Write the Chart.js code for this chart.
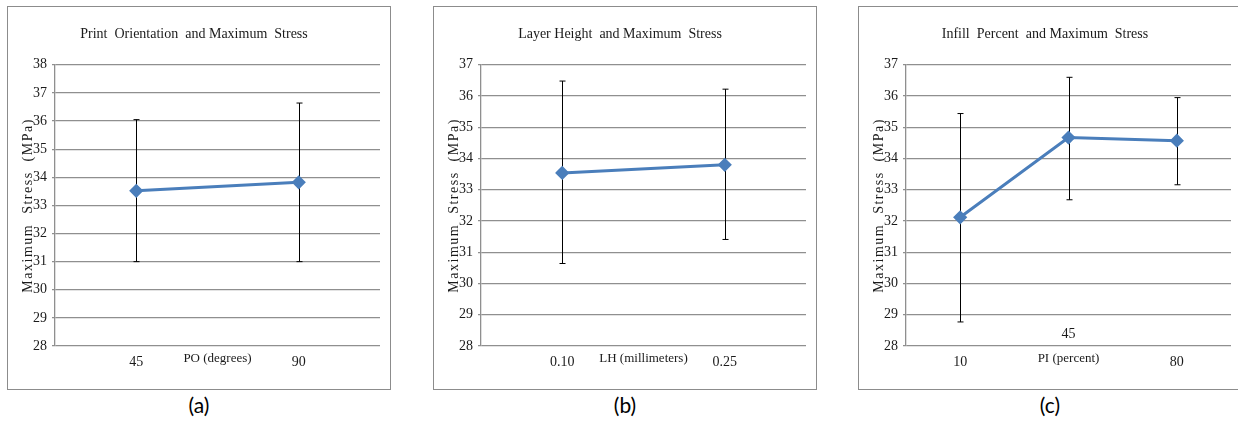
<!DOCTYPE html>
<html>
<head>
<meta charset="utf-8">
<title>Maximum Stress</title>
<script src="https://cdn.jsdelivr.net/npm/chart.js@4"></script>
<style>
  body { margin: 0; background: #fff; width: 1238px; height: 427px; overflow: hidden; position: relative; }
  .painel { position: absolute; top: 6px; width: 384px; height: 384px; box-sizing: border-box; border: 1px solid #8c8c8c; background: #fff; }
  .painel canvas { display: block; }
  .legenda { position: absolute; top: 392px; width: 384px; text-align: center; font-family: Lato, "Open Sans", sans-serif; font-size: 21px; color: #000; }
</style>
</head>
<body>
  <div class="painel" style="left:7px"><canvas id="grafico-po" width="382" height="382"></canvas></div>
  <div class="painel" style="left:433px"><canvas id="grafico-lh" width="382" height="382"></canvas></div>
  <div class="painel" style="left:858px"><canvas id="grafico-pi" width="382" height="382"></canvas></div>
  <div class="legenda" style="left:7px">(a)</div>
  <div class="legenda" style="left:433px">(b)</div>
  <div class="legenda" style="left:858px">(c)</div>

<script>
// Dados do gráfico (a) - orientação de impressão
const rotulosPO = ["45", "90"];
const mediaPO = [33.52, 33.82];
const superiorPO = [36.05, 36.64];
const inferiorPO = [31.0, 31.0];
const limitesPO = [28, 38];

// Dados do gráfico (b) - altura de camada
const rotulosLH = ["0.10", "0.25"];
const mediaLH = [33.54, 33.80];
const superiorLH = [36.48, 36.22];
const inferiorLH = [30.64, 31.41];
const limitesLH = [28, 37];

// Dados do gráfico (c) - percentual de preenchimento
const rotulosPI = ["10", "45", "80"];
const mediaPI = [32.12, 34.67, 34.57];
const superiorPI = [35.44, 36.60, 35.95];
const inferiorPI = [28.77, 32.68, 33.16];
const limitesPI = [28, 37];
const rotuloElevadoPI = 1; // o rótulo "45" aparece acima do eixo no original

const tituloY = "Maximum  Stress  (MPa)";

const azul = "#4a7ebb";
const corTexto = "#1a1a1a";
const corGrade = "#8f8f8f";
const serifa = "'Liberation Serif', 'Times New Roman', serif";

// Plugin para desenhar as barras de erro
const pluginBarrasErro = {
    id: "barrasErro",
    beforeDatasetsDraw(chart, args, opts) {
        const { ctx, scales: { x, y } } = chart;
        ctx.save();
        ctx.strokeStyle = "#000";
        ctx.lineWidth = 1;
        opts.superior.forEach((sup, i) => {
            const px = Math.round(x.getPixelForValue(i)) + 0.5;
            const yTopo = y.getPixelForValue(sup);
            const yBase = y.getPixelForValue(opts.inferior[i]);
            ctx.beginPath();
            ctx.moveTo(px, yTopo);
            ctx.lineTo(px, yBase);
            ctx.moveTo(px - 3, yTopo);
            ctx.lineTo(px + 3, yTopo);
            ctx.moveTo(px - 3, yBase);
            ctx.lineTo(px + 3, yBase);
            ctx.stroke();
        });
        ctx.restore();
    }
};

// Plugin para textos especiais: rótulo elevado do eixo x e título do eixo y espaçado
const pluginTextos = {
    id: "textos",
    afterDraw(chart, args, opts) {
        const { ctx, scales: { x, y } } = chart;
        ctx.save();
        ctx.fillStyle = corTexto;
        ctx.textAlign = "center";
        ctx.textBaseline = "middle";

        if (opts.indice !== null && opts.indice !== undefined) {
            ctx.font = "14px " + serifa;
            ctx.fillText(chart.data.labels[opts.indice], x.getPixelForValue(opts.indice), y.bottom - 12);
        }

        // título do eixo y com letras espaçadas, como no original
        ctx.font = "14px " + serifa;
        if ("letterSpacing" in ctx) ctx.letterSpacing = "1.5px";
        ctx.translate(y.left + 20, (y.top + y.bottom) / 2);
        ctx.rotate(-Math.PI / 2);
        ctx.fillText(opts.tituloY, 0, 0);
        ctx.restore();
    }
};

// Função para criar cada gráfico
function criarGrafico(id, titulo, tituloX, rotulos, media, superior, inferior, limites, elevado) {
    new Chart(document.getElementById(id), {
        type: "line",
        data: {
            labels: rotulos,
            datasets: [{
                data: media,
                borderColor: azul,
                backgroundColor: azul,
                borderWidth: 3,
                pointStyle: "rectRot",
                pointRadius: 5,
                pointHoverRadius: 5,
                tension: 0
            }]
        },
        options: {
            responsive: false,
            animation: false,
            events: [],
            layout: { padding: { left: 0, right: 10, top: 0, bottom: 0 } },
            plugins: {
                legend: { display: false },
                tooltip: { enabled: false },
                title: {
                    display: true,
                    text: titulo,
                    color: corTexto,
                    font: { family: serifa, size: 14, weight: "normal" },
                    padding: { top: 19, bottom: 22 }
                },
                barrasErro: { superior: superior, inferior: inferior },
                textos: { indice: elevado, tituloY: tituloY }
            },
            scales: {
                x: {
                    offset: true,
                    grid: { display: false, drawTicks: false },
                    border: { display: false },
                    ticks: {
                        padding: 8,
                        color: corTexto,
                        font: { family: serifa, size: 14 },
                        maxRotation: 0,
                        autoSkip: false,
                        callback: function (valor, indice) {
                            return indice === elevado ? "" : this.getLabelForValue(valor);
                        }
                    },
                    title: {
                        display: true,
                        text: tituloX,
                        color: corTexto,
                        font: { family: serifa, size: 13 },
                        padding: { top: 0, bottom: 23 }
                    },
                    afterFit: (escala) => { escala.height = 43; }
                },
                y: {
                    min: limites[0],
                    max: limites[1],
                    ticks: { stepSize: 1, padding: 5, color: corTexto, font: { family: serifa, size: 14 } },
                    grid: { color: corGrade, lineWidth: 1.3, tickLength: 3 },
                    border: { color: corGrade, width: 1.3 },
                    title: { display: false },
                    afterFit: (escala) => { escala.width = 47; }
                }
            }
        },
        plugins: [pluginBarrasErro, pluginTextos]
    });
}

criarGrafico("grafico-po", "Print  Orientation  and Maximum  Stress", "PO (degrees)",
    rotulosPO, mediaPO, superiorPO, inferiorPO, limitesPO, null);
criarGrafico("grafico-lh", "Layer Height  and Maximum  Stress", "LH (millimeters)",
    rotulosLH, mediaLH, superiorLH, inferiorLH, limitesLH, null);
criarGrafico("grafico-pi", "Infill  Percent  and Maximum  Stress", "PI (percent)",
    rotulosPI, mediaPI, superiorPI, inferiorPI, limitesPI, rotuloElevadoPI);
</script>
</body>
</html>
